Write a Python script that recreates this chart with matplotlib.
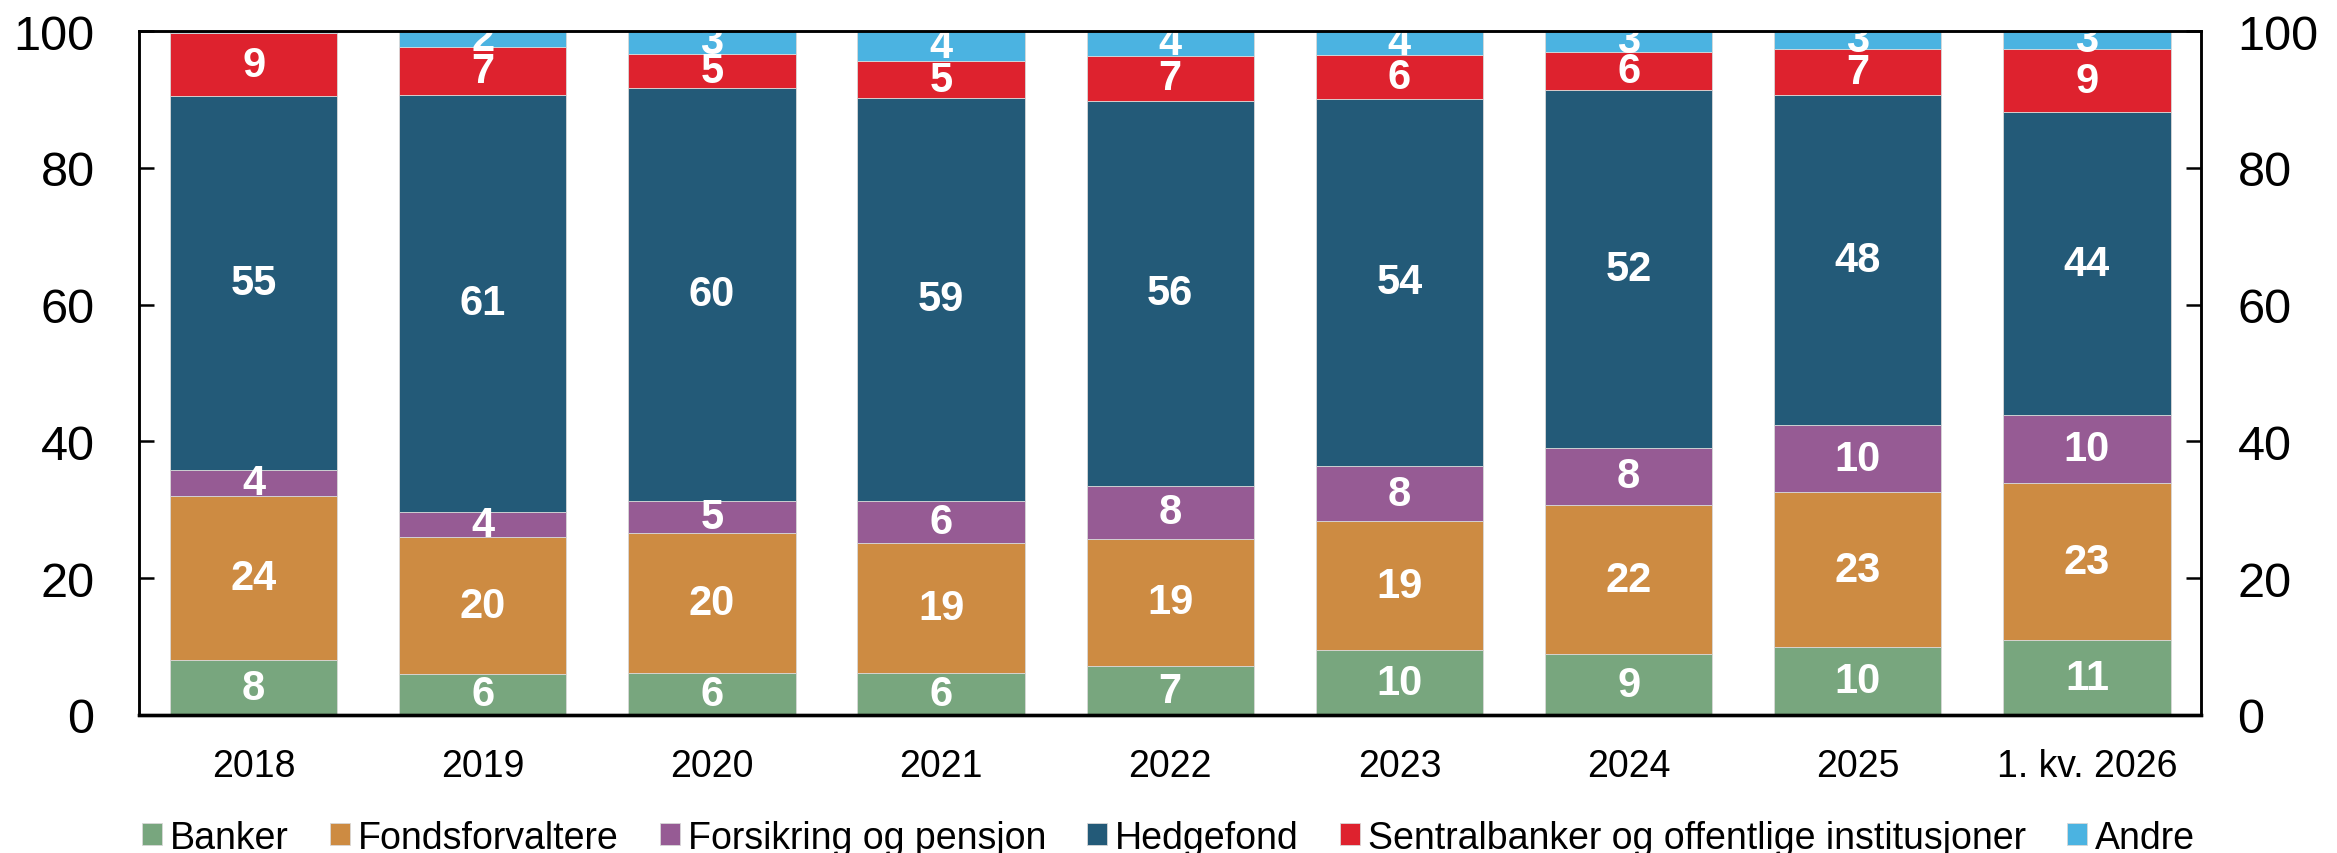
"""Eierskap fordelt på investortyper, stablede søyler (prosent)."""

import matplotlib

matplotlib.use("Agg")
import matplotlib.pyplot as plt
import numpy as np

plt.rcParams["font.family"] = ["Liberation Sans", "DejaVu Sans"]

# Kategorier og serier (andel i prosent, lest av figuren).
CATEGORIES = ["2018", "2019", "2020", "2021", "2022", "2023", "2024", "2025", "1. kv. 2026"]
BANKER = [8.0, 6.0, 6.2, 6.1, 7.1, 9.5, 8.9, 9.9, 10.9]
FONDSFORVALTERE = [24.0, 20.0, 20.4, 19.1, 18.7, 18.8, 21.8, 22.7, 23.0]
FORSIKRING = [3.8, 3.7, 4.7, 6.1, 7.7, 8.1, 8.4, 9.8, 9.9]
HEDGEFOND = [54.7, 61.0, 60.4, 58.9, 56.3, 53.7, 52.3, 48.2, 44.4]
SENTRALBANKER = [9.2, 7.0, 5.0, 5.4, 6.6, 6.4, 5.6, 6.7, 9.1]
ANDRE = [0.3, 2.3, 3.3, 4.4, 3.6, 3.6, 3.0, 2.7, 2.7]

SERIES = [
    ("Banker", BANKER, "#78A67E"),
    ("Fondsforvaltere", FONDSFORVALTERE, "#CD8B42"),
    ("Forsikring og pensjon", FORSIKRING, "#965B94"),
    ("Hedgefond", HEDGEFOND, "#235A78"),
    ("Sentralbanker og offentlige institusjoner", SENTRALBANKER, "#DE222E"),
    ("Andre", ANDRE, "#4BB3E1"),
]

Y_TICKS = [0, 20, 40, 60, 80, 100]


def main() -> None:
    fig = plt.figure(figsize=(23.37, 8.54), dpi=100)
    ax = fig.add_axes([0.0595, 0.1616, 0.8825, 0.8009])

    x = np.arange(len(CATEGORIES))
    bottom = np.zeros(len(CATEGORIES))
    handles = []
    for name, values, color in SERIES:
        values = np.array(values)
        bars = ax.bar(x, values, width=0.73, bottom=bottom, color=color,
                      edgecolor="#d8d8d8", linewidth=0.6, label=name, zorder=2)
        handles.append(bars)
        # Verdietiketter midt i hvert segment (ikke for de aller minste).
        for xi, b, v in zip(x, bottom, values):
            if v < 1:
                continue
            ax.text(xi, b + v / 2, f"{v:.0f}", ha="center", va="center",
                    color="white", fontsize=30, fontweight="bold", zorder=3)
        bottom += values

    ax.set_xlim(-0.5, len(CATEGORIES) - 0.5)
    ax.set_ylim(0, 100)
    ax.set_yticks(Y_TICKS)
    ax.set_xticks(x)
    ax.set_xticklabels(CATEGORIES)

    ax.tick_params(axis="y", direction="in", length=11, width=1.8, labelsize=35,
                   pad=32, left=True, right=False)
    ax.tick_params(axis="x", length=0, labelsize=27, pad=24)

    # Høyre akse med samme skala.
    ax2 = ax.twinx()
    ax2.set_ylim(0, 100)
    ax2.set_yticks(Y_TICKS)
    ax2.tick_params(axis="y", direction="in", length=11, width=1.8, labelsize=35, pad=26)

    for a in (ax, ax2):
        for side in ["left", "right", "top", "bottom"]:
            a.spines[side].set_linewidth(1.8)
            a.spines[side].set_zorder(4)
        a.spines["bottom"].set_linewidth(2.4)

    fig.legend(handles=handles, labels=[s[0] for s in SERIES], loc="center",
               bbox_to_anchor=(0.5, 0.018), ncol=6, frameon=False,
               fontsize=27, handlelength=0.53, handleheight=0.53,
               handletextpad=0.21, columnspacing=1.1, borderaxespad=0,
               borderpad=0)

    fig.savefig("out.png", dpi=100)
    plt.close(fig)


if __name__ == "__main__":
    main()
